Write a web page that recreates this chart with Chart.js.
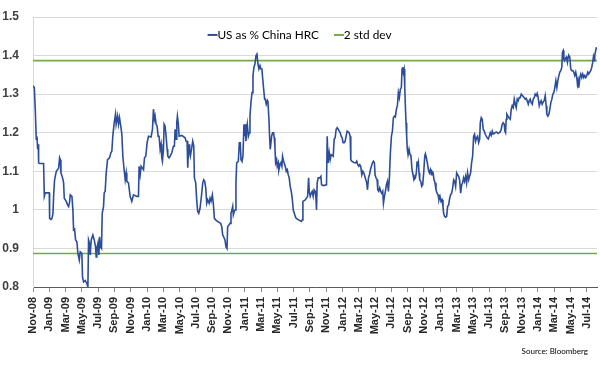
<!DOCTYPE html>
<html><head><meta charset="utf-8">
<script src="https://cdn.jsdelivr.net/npm/chart.js@4.4.1/dist/chart.umd.min.js"></script>
<style>html,body{margin:0;padding:0;background:#fff}canvas{display:block}</style>
</head><body>
<canvas id="c" width="600" height="367"></canvas>
<script>
// Tick labels (every 2 months, starting Nov-08)
const tickLabels = ['Nov-08','Jan-09','Mar-09','May-09','Jul-09','Sep-09','Nov-09',
  'Jan-10','Mar-10','May-10','Jul-10','Sep-10','Nov-10',
  'Jan-11','Mar-11','May-11','Jul-11','Sep-11','Nov-11',
  'Jan-12','Mar-12','May-12','Jul-12','Sep-12','Nov-12',
  'Jan-13','Mar-13','May-13','Jul-13','Sep-13','Nov-13',
  'Jan-14','Mar-14','May-14','Jul-14'];

// Time position of each reading, in months since 1 Nov 2008
const monthOffsets = [
0.00,0.16,0.28,0.40,0.49,0.57,0.65,0.69,0.81,1.22,1.30,1.39,1.51,1.92,2.00,2.04,2.20,2.33,2.45,2.53,
2.65,2.86,3.14,3.27,3.35,3.43,3.63,3.76,3.84,4.08,4.25,4.37,4.49,4.57,4.78,4.90,4.98,5.10,5.23,5.39,
5.51,5.68,5.80,6.00,6.08,6.21,6.41,6.62,6.74,6.82,6.94,7.02,7.15,7.35,7.52,7.68,7.76,7.84,7.97,8.09,
8.17,8.29,8.41,8.50,8.66,8.74,8.86,8.99,9.15,9.40,9.56,9.68,9.80,9.97,10.13,10.21,10.38,10.50,10.62,10.78,
10.91,11.03,11.19,11.32,11.44,11.52,11.72,
11.93,12.13,12.34,12.75,12.95,13.03,13.16,13.28,13.57,13.69,13.85,14.01,14.18,14.50,14.67,14.79,14.91,14.99,
15.12,15.24,15.36,15.48,15.61,15.73,15.81,15.89,16.02,16.10,16.22,16.34,16.47,16.55,16.71,16.83,17.04,17.24,
17.36,17.45,17.57,17.65,17.73,17.85,17.94,18.27,18.67,18.80,18.92,19.00,19.08,19.16,19.24,19.32,19.49,19.61,
19.74,19.82,19.98,20.10,20.22,20.35,20.51,20.72,20.84,20.96,21.08,21.21,21.33,21.45,21.62,21.74,21.86,22.02,
22.14,22.27,22.43,22.64,23.04,23.17,23.29,23.41,23.57,
23.70,23.82,23.90,24.06,24.19,24.31,24.43,24.52,24.60,24.72,24.84,24.92,25.01,25.21,25.33,25.45,25.54,25.66,
25.78,25.90,25.99,26.07,26.15,26.23,26.31,26.44,26.56,26.64,26.76,26.89,27.01,27.13,27.25,27.38,27.50,27.62,
27.74,27.87,27.99,28.11,28.19,28.32,28.44,28.52,28.64,28.77,28.85,28.97,29.05,29.13,29.21,29.30,29.42,29.54,
29.62,29.70,29.79,29.91,29.99,30.11,30.19,30.32,30.44,30.56,30.64,30.77,30.97,31.10,31.22,31.34,31.46,31.58,
31.71,31.83,31.95,32.08,32.20,32.32,32.61,32.94,33.06,33.14,33.43,33.72,33.84,33.92,34.04,34.16,34.28,34.40,
34.52,34.65,34.73,34.81,34.89,35.02,35.22,
35.35,35.43,35.63,36.04,36.12,36.24,36.37,36.49,36.61,36.86,36.98,37.10,37.22,37.35,37.47,37.72,37.84,37.96,
38.08,38.21,38.33,38.45,38.57,38.82,38.94,39.02,39.14,39.39,39.63,39.75,39.88,40.00,40.12,40.24,40.37,40.49,
40.61,40.74,40.86,40.98,41.07,41.19,41.31,41.43,41.55,41.68,41.80,41.92,42.00,42.12,42.25,42.33,42.45,42.57,
42.70,42.82,42.94,43.03,43.15,43.27,43.39,43.52,43.64,43.76,43.88,44.01,44.13,44.25,44.37,44.49,44.62,44.74,
44.86,44.98,45.11,45.23,45.31,45.39,45.47,45.56,45.64,45.72,45.80,45.88,45.96,46.05,46.17,46.29,46.41,46.54,
46.66,46.78,
46.95,47.07,47.16,47.24,47.32,47.40,47.48,47.61,47.73,47.85,47.97,48.10,48.18,48.30,48.42,48.55,48.67,48.79,
48.91,48.99,49.12,49.24,49.36,49.48,49.61,49.73,49.85,49.97,50.10,50.22,50.34,50.42,50.55,50.67,50.79,50.91,
51.04,51.16,51.28,51.40,51.53,51.65,51.77,51.89,52.02,52.14,52.26,52.38,52.51,52.63,52.75,52.87,52.99,53.12,
53.24,53.36,53.49,53.61,53.73,53.85,53.98,54.10,54.22,54.34,54.47,54.59,54.71,54.84,54.92,55.04,55.16,55.28,
55.41,55.53,55.65,55.77,55.90,56.02,56.14,56.27,56.39,56.51,56.63,56.76,56.88,56.99,57.12,57.24,57.37,57.49,
57.61,57.73,57.86,57.94,58.02,58.10,58.18,58.31,58.43,
58.60,58.72,58.84,58.97,59.09,59.21,59.33,59.46,59.58,59.70,59.82,59.95,60.07,60.19,60.31,60.44,60.56,60.68,
60.81,60.93,61.05,61.17,61.30,61.42,61.54,61.66,61.79,61.91,62.03,62.16,62.28,62.40,62.52,62.65,62.77,62.89,
63.01,63.09,63.22,63.34,63.46,63.58,63.71,63.83,63.95,64.07,64.20,64.32,64.44,64.57,64.69,64.81,64.93,65.01,
65.10,65.18,65.26,65.38,65.50,65.62,65.71,65.79,65.91,66.03,66.15,66.28,66.40,66.52,66.64,66.77,66.85,66.93,
67.01,67.14,67.26,67.38,67.50,67.63,67.75,67.87,67.99,68.12,68.24,68.36,68.48,68.61,68.73,68.81,68.89,68.97,
69.09,69.18];

// US HRC price as a ratio of China HRC price
const ratioValues = [
1.322,1.317,1.26,1.183,1.19,1.157,1.17,1.122,1.12,1.12,1.12,1.035,1.044,1.044,1.044,0.978,0.975,0.978,0.99,1.035,
1.078,1.1,1.108,1.135,1.13,1.096,1.083,1.07,1.03,1.022,1.013,1.009,1.02,1.039,1.035,1.0,0.948,0.95,0.922,0.917,
0.887,0.87,0.891,0.887,0.826,0.813,0.817,0.809,0.80,0.922,0.913,0.883,0.922,0.935,0.922,0.904,0.878,0.9,0.913,0.883,
0.93,0.904,0.9,0.991,1.009,1.044,1.048,1.096,1.13,1.135,1.148,1.152,1.191,1.226,1.248,1.222,1.243,1.222,1.239,1.217,
1.196,1.139,1.104,1.078,1.096,1.074,1.07,
1.035,1.022,1.039,1.035,1.035,1.113,1.091,1.113,1.104,1.135,1.139,1.174,1.191,1.189,1.209,1.261,1.235,1.243,
1.222,1.217,1.191,1.191,1.157,1.17,1.135,1.126,1.157,1.222,1.217,1.191,1.157,1.139,1.135,1.139,1.148,1.165,
1.165,1.209,1.183,1.226,1.243,1.222,1.191,1.193,1.187,1.178,1.178,1.109,1.148,1.17,1.148,1.139,1.161,1.178,
1.165,1.083,1.07,1.026,0.996,0.991,1.004,1.043,1.07,1.078,1.074,1.057,1.017,1.026,1.017,1.03,1.022,1.039,
1.017,0.978,0.974,0.97,0.965,0.957,0.935,0.93,0.922,
0.904,0.90,0.957,0.961,0.965,0.991,1.0,1.009,0.987,0.996,1.0,1.07,1.122,1.126,1.174,1.174,1.13,1.126,
1.139,1.222,1.191,1.222,1.178,1.209,1.222,1.191,1.2,1.243,1.278,1.304,1.348,1.37,1.378,1.40,1.404,1.378,
1.365,1.374,1.365,1.365,1.343,1.313,1.287,1.287,1.274,1.283,1.278,1.235,1.191,1.157,1.157,1.191,1.2,1.2,
1.187,1.165,1.122,1.13,1.113,1.122,1.104,1.117,1.122,1.113,1.139,1.126,1.113,1.1,1.104,1.091,1.083,1.061,
1.048,1.03,1.0,0.991,0.983,0.978,0.974,0.97,0.974,1.022,1.026,1.035,1.083,1.048,1.035,1.043,1.048,1.035,
1.052,1.048,1.035,1.0,1.07,1.083,1.083,
1.087,1.065,1.063,1.065,1.191,1.122,1.148,1.13,1.143,1.139,1.183,1.187,1.209,1.213,1.209,1.2,1.191,1.187,
1.174,1.174,1.178,1.191,1.204,1.2,1.191,1.13,1.126,1.123,1.122,1.126,1.117,1.113,1.117,1.113,1.091,1.1,
1.096,1.087,1.078,1.07,1.052,1.083,1.091,1.104,1.113,1.122,1.126,1.122,1.091,1.083,1.078,1.052,1.048,1.057,
1.048,1.043,1.048,1.017,1.035,1.048,1.065,1.074,1.048,1.083,1.148,1.191,1.204,1.239,1.243,1.241,1.261,1.27,
1.304,1.291,1.313,1.317,1.365,1.37,1.357,1.365,1.322,1.27,1.226,1.191,1.157,1.143,1.157,1.143,1.139,1.104,
1.091,1.078,
1.083,1.096,1.126,1.113,1.122,1.096,1.078,1.074,1.061,1.065,1.096,1.139,1.145,1.135,1.122,1.104,1.096,1.104,
1.091,1.1,1.096,1.078,1.07,1.052,1.043,1.039,1.026,1.035,1.022,1.026,1.009,0.991,0.983,0.981,0.983,1.009,
1.013,1.03,1.039,1.043,1.057,1.078,1.074,1.061,1.096,1.091,1.087,1.078,1.043,1.065,1.07,1.083,1.074,1.087,
1.07,1.096,1.078,1.087,1.096,1.122,1.139,1.191,1.196,1.178,1.187,1.191,1.174,1.183,1.226,1.239,1.235,1.209,
1.204,1.196,1.191,1.187,1.184,1.191,1.2,1.193,1.204,1.197,1.198,1.2,1.202,1.2,1.198,1.2,1.202,1.209,
1.222,1.226,1.222,1.204,1.2,1.235,1.248,1.243,1.239,
1.235,1.261,1.27,1.265,1.287,1.274,1.265,1.287,1.283,1.291,1.291,1.3,1.297,1.294,1.291,1.287,1.289,1.283,
1.274,1.283,1.287,1.278,1.274,1.287,1.291,1.3,1.296,1.302,1.291,1.27,1.278,1.283,1.274,1.28,1.283,1.296,
1.27,1.248,1.243,1.248,1.261,1.278,1.287,1.3,1.304,1.317,1.335,1.317,1.335,1.348,1.357,1.361,1.37,1.409,
1.413,1.391,1.387,1.393,1.396,1.383,1.396,1.40,1.396,1.365,1.361,1.361,1.357,1.348,1.357,1.343,1.326,1.335,
1.317,1.343,1.352,1.343,1.352,1.343,1.348,1.343,1.348,1.357,1.352,1.357,1.361,1.37,1.383,1.396,1.387,1.40,
1.413,1.422];

// Two standard deviation band
const upperBand = 1.387;
const lowerBand = 0.887;
const seriesName = 'US as % China HRC';
const bandName = '2 std dev';
const sourceNote = 'Source: Bloomberg';
const axisEnd = 69.25;

const TEXT_FONT = 'Lato';
const TICK_FONT = "'Liberation Sans', Arial, sans-serif";
const BLUE = '#2c4d9a';
const GREEN = '#70ad47';

const seriesPoints = monthOffsets.map((m, i) => ({ x: m, y: ratioValues[i] }));
const bandLine = v => [{ x: 0, y: v }, { x: axisEnd, y: v }];

// Legend swatch: short line ending right where the label text begins
function legendSwatch(color) {
  const c = document.createElement('canvas');
  c.width = 24; c.height = 4;
  const g = c.getContext('2d');
  g.fillStyle = color;
  g.fillRect(10, 1, 10, 2);
  return c;
}

const legendOverlay = {
  id: 'legendOverlay',
  beforeInit(chart) {
    const lg = chart.legend;
    const origFit = lg.fit;
    lg.fit = function () { origFit.call(this); this._fullHeight = this.height; this.height = 0; };
  },
  afterLayout(chart) {
    const lg = chart.legend;
    lg.top = 14;
    lg.height = lg._fullHeight;
    lg.bottom = lg.top + lg.height;
  }
};

const sourcePlugin = {
  id: 'sourceNote',
  afterDraw(chart) {
    const ctx = chart.ctx;
    ctx.save();
    ctx.font = '8px ' + TEXT_FONT;
    ctx.fillStyle = '#000';
    ctx.textAlign = 'right';
    ctx.textBaseline = 'middle';
    ctx.fillText(sourceNote, 588, 351);
    ctx.restore();
  }
};

new Chart(document.getElementById('c'), {
  type: 'line',
  data: {
    datasets: [
      { label: seriesName, data: seriesPoints, borderColor: BLUE, backgroundColor: BLUE,
        borderWidth: 1.6, pointRadius: 0, pointStyle: legendSwatch(BLUE), tension: 0, fill: false },
      { label: bandName, data: bandLine(upperBand), borderColor: GREEN, backgroundColor: GREEN,
        borderWidth: 1.6, pointRadius: 0, pointStyle: legendSwatch(GREEN), fill: false },
      { label: bandName + ' (lower)', data: bandLine(lowerBand), borderColor: GREEN, backgroundColor: GREEN,
        borderWidth: 1.6, pointRadius: 0, fill: false }
    ]
  },
  options: {
    responsive: false,
    animation: false,
    devicePixelRatio: 1,
    layout: { padding: { top: 17, left: 2, right: 3, bottom: 30 } },
    plugins: {
      legend: {
        position: 'top',
        labels: {
          filter: item => item.datasetIndex !== 2,
          usePointStyle: true, pointStyleWidth: 4,
          padding: 15, color: '#000',
          font: { family: TEXT_FONT, size: 11.8 }
        }
      },
      tooltip: { enabled: false }
    },
    scales: {
      x: {
        type: 'linear', min: 0, max: axisEnd,
        afterBuildTicks: scale => { scale.ticks = tickLabels.map((_, i) => ({ value: i * 2 })); },
        afterFit: scale => { scale.height = 50; scale.paddingLeft = 0; scale.paddingRight = 0; },
        ticks: {
          autoSkip: false, maxRotation: 90, minRotation: 90, padding: 5,
          color: '#262626', font: { family: TICK_FONT, size: 11, weight: 'bold' },
          callback: v => tickLabels[Math.round(v / 2)]
        },
        grid: { drawOnChartArea: false, drawTicks: true, tickLength: 5, color: '#8c8c8c' },
        border: { color: '#595959', width: 1 }
      },
      y: {
        min: 0.8, max: 1.5,
        afterFit: scale => { scale.width = 31; scale.paddingTop = 0; scale.paddingBottom = 0; },
        ticks: {
          stepSize: 0.1, padding: 14, color: '#404040',
          font: { family: TICK_FONT, size: 12, weight: 'bold' },
          callback: v => String(Math.round(v * 10) / 10)
        },
        grid: { color: '#d9d9d9', drawTicks: false },
        border: { color: '#d9d9d9' }
      }
    }
  },
  plugins: [legendOverlay, sourcePlugin]
});
</script>
</body></html>
